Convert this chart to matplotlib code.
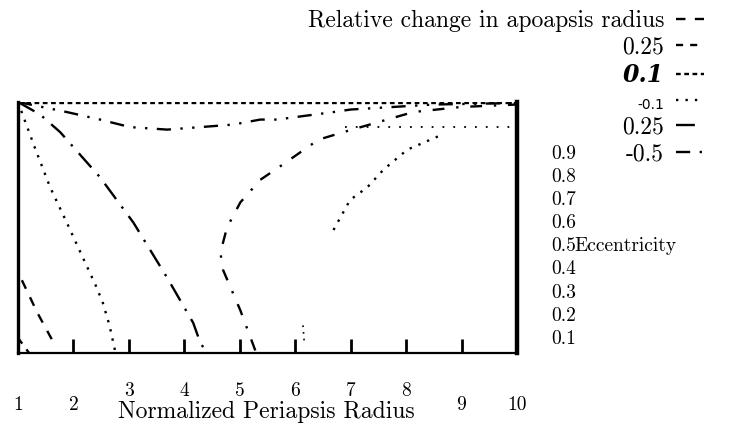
import numpy as np
import matplotlib.pyplot as plt
import matplotlib.transforms as mtransforms

plt.rcParams['font.family'] = ['cmr10', 'DejaVu Serif']
plt.rcParams['axes.unicode_minus'] = False
plt.rcParams['mathtext.fontset'] = 'cm'

# curves (x = normalized periapsis radius, y = eccentricity)
a1_x = [1.07, 1.35, 1.67]
a1_y = [0.29, 0.16, 0.03]
a2_x = [1.0, 1.1, 1.2]
a2_y = [0.06, 0.03, 0.0]
b_x = [1.0, 1.3, 1.58, 1.9, 2.17, 2.4, 2.53, 2.65, 2.75]
b_y = [1.0, 0.82, 0.66, 0.51, 0.38, 0.27, 0.2, 0.11, 0.01]
c_x = [1.0, 1.4, 1.76, 2.48, 3.08, 3.69, 4.16, 4.29, 4.41]
c_y = [1.0, 0.95, 0.88, 0.70, 0.52, 0.30, 0.12, 0.04, 0.0]
d_x = [1.0, 1.88, 2.48, 3.02, 3.69, 4.29, 4.88, 5.37, 5.67, 6.69, 7.0, 8.5, 10.0]
d_y = [1.0, 0.96, 0.93, 0.90, 0.89, 0.90, 0.91, 0.93, 0.93, 0.96, 0.97, 0.99, 0.996]
e_x = [5.28, 5.01, 4.70, 4.65, 4.77, 5.01, 5.37, 5.77, 6.42, 6.87, 8.13, 8.98, 10.0]
e_y = [0.01, 0.17, 0.33, 0.40, 0.50, 0.60, 0.69, 0.75, 0.85, 0.88, 0.96, 0.98, 0.99]
f_x = [6.69, 6.99, 7.30, 7.59, 8.02, 8.44, 8.65]
f_y = [0.49, 0.61, 0.66, 0.73, 0.81, 0.85, 0.87]
g_x = [6.9, 8.0, 9.0, 10.0]
g_y = [0.90, 0.90, 0.90, 0.90]
top_x = [1.0, 10.0]
top_y = [0.997, 0.997]
h_x = [6.14, 6.16]
h_y = [0.11, 0.05]

x_ticks = [1, 2, 3, 4, 5, 6, 7, 8, 9, 10]
raised = [3, 4, 5, 6, 7, 8]
y_ticks = [0.1, 0.2, 0.3, 0.4, 0.5, 0.6, 0.7, 0.8, 0.9]
y_labels = ['0.1', '0.2', '0.3', '0.4', '0.5', '0.6', '0.7', '0.8', '0.9']
legend_labels = ['Relative change in apoapsis radius', '0.25', '0.1', '-0.1', '0.25', '-0.5']

fig = plt.figure(figsize=(7.36, 4.25), dpi=100)
ax = fig.add_axes([18 / 736, 72 / 425, 499 / 736, 251 / 425])

lw = 1.7
la1, = ax.plot(a1_x, a1_y, color='black', lw=lw, ls=(0, (4, 4)))
la2, = ax.plot(a2_x, a2_y, color='black', lw=lw, ls=(0, (3, 3)))
lb, = ax.plot(b_x, b_y, color='black', lw=lw, ls=(0, (1, 3)))
lc, = ax.plot(c_x, c_y, color='black', lw=lw, ls=(0, (8, 4, 1, 4)))
ld, = ax.plot(d_x, d_y, color='black', lw=lw, ls=(0, (6, 4, 1, 4, 1, 4)))
ax.plot(e_x, e_y, color='black', lw=lw, ls=(0, (5, 5, 1, 5)))
ax.plot(f_x, f_y, color='black', lw=lw, ls=(0, (1, 3)))
ax.plot(g_x, g_y, color='black', lw=1.3, ls=(0, (1, 5)))
lt, = ax.plot(top_x, top_y, color='black', lw=lw, ls=(0, (2, 1.5)))
ax.plot(h_x, h_y, color='black', lw=1.2, ls=(0, (1, 3)))

ax.set_xlim(1, 10)
ax.set_ylim(0, 1)
ax.spines['top'].set_visible(False)
ax.spines['left'].set_linewidth(2.4)
ax.spines['right'].set_linewidth(3.2)
ax.spines['bottom'].set_linewidth(1.6)
ax.set_yticks([])
ax.set_xticks(x_ticks)
ax.set_xticklabels([str(t) for t in x_ticks])
ax.tick_params(axis='x', direction='in', length=10, width=2, pad=31, labelsize=14)
shift = mtransforms.ScaledTranslation(0, 10 / 72, fig.dpi_scale_trans)
for t, lab in zip(x_ticks, ax.get_xticklabels()):
    if t in raised:
        lab.set_transform(lab.get_transform() + shift)
ax.set_xlabel('Normalized Periapsis Radius', fontsize=17, va='center')
ax.xaxis.set_label_coords(0.497, -0.235)

ax2 = ax.twinx()
ax2.set_ylim(0.030, 1.116)
ax2.set_yticks(y_ticks)
ax2.set_yticklabels(y_labels)
ax2.tick_params(axis='y', length=0, pad=25, labelsize=14)
for s in ax2.spines.values():
    s.set_visible(False)
ax2.set_ylabel('Eccentricity', fontsize=14, rotation=0, ha='left', va='center')
ax2.yaxis.set_label_coords(1.115, 0.426)

leg = fig.legend([la1, la2, lt, lb, lc, ld], legend_labels,
                 loc='upper right', bbox_to_anchor=(716 / 736, 1.005),
                 frameon=False, markerfirst=False, fontsize=17,
                 handlelength=1.2, labelspacing=0.2, handletextpad=0.5,
                 borderaxespad=0.1)
texts = leg.get_texts()
texts[2].set_fontfamily('DejaVu Serif')
texts[2].set_fontweight('bold')
texts[2].set_fontstyle('italic')
texts[3].set_fontfamily('DejaVu Sans')
texts[3].set_fontsize(10)

fig.savefig('out.png', dpi=100)
